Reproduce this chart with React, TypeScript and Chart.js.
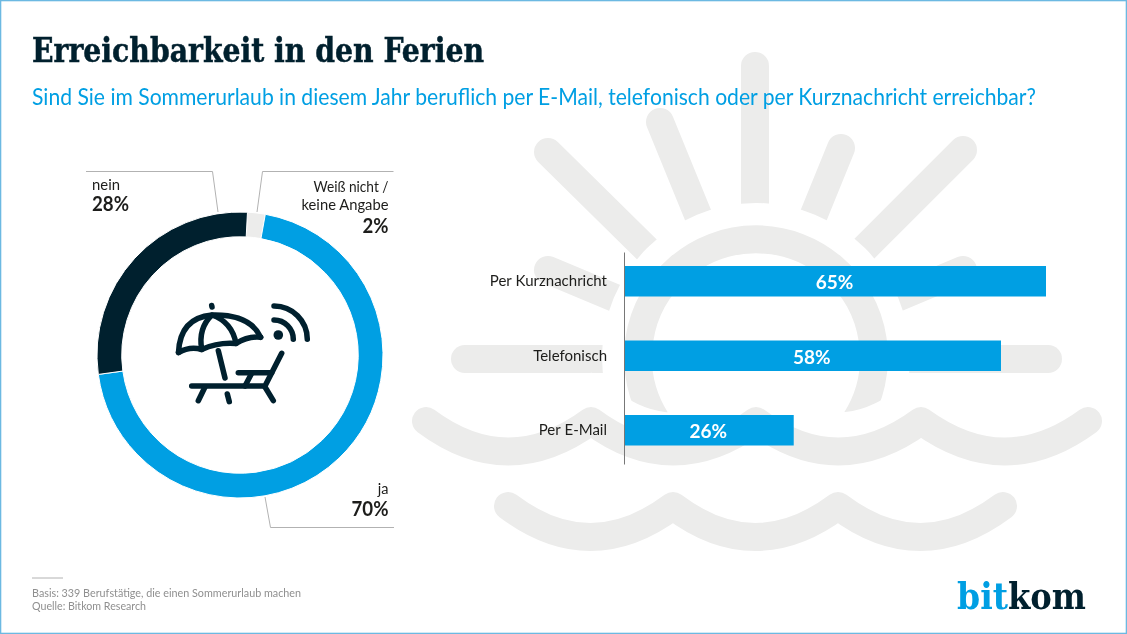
import { Chart, registerables } from "chart.js"
import React, { useEffect, useRef } from "react"

Chart.register(...registerables)

const DARK = "#00202e"
const BLUE = "#009fe3"
const PALE = "#ececeb"
const TEXT = "#1d1d1b"
const SLAB = "'DejaVu Serif Condensed', 'DejaVu Serif', serif"
const SANS = "Lato, 'Open Sans', sans-serif"

const ringLabels = ["Weiß nicht / keine Angabe", "ja", "nein"]
const ringValues = [2, 70, 28]
const ringColors = [PALE, BLUE, DARK]

const barLabels = ["Per Kurznachricht", "Telefonisch", "Per E-Mail"]
const barValues = [65, 58, 26]

const barExtras = {
  id: "barExtras",
  afterDatasetsDraw(chart: Chart) {
    const { ctx, chartArea, scales } = chart
    const axisX = Math.round(scales.x.getPixelForValue(0)) - 0.5
    ctx.save()
    ctx.strokeStyle = "#777"
    ctx.lineWidth = 1
    ctx.beginPath()
    ctx.moveTo(axisX, chartArea.top + 8.5)
    ctx.lineTo(axisX, chartArea.bottom - 3)
    ctx.stroke()
    ctx.fillStyle = "#fff"
    ctx.font = `700 19px ${SANS}`
    ctx.textAlign = "center"
    ctx.textBaseline = "middle"
    chart.getDatasetMeta(0).data.forEach((bar: any, i: number) => {
      ctx.fillText(`${barValues[i]}%`, (bar.x + bar.base) / 2 - 1, bar.y + 2)
    })
    ctx.restore()
  },
}

const Backdrop = () => (
  <svg width={1127} height={634} style={{ position: "absolute", left: 0, top: 0 }}>
    <g stroke={PALE} strokeWidth={28} strokeLinecap="round" fill="none">
      <path d="M755 66L755 357" />
      <path d="M660 122L756 357" />
      <path d="M548 152L756 357" />
      <path d="M548 270L756 357" />
      <path d="M465 359L756 359" />
      <path d="M841 148L756 357" />
      <path d="M963 150L756 357" />
      <path d="M963 270L756 357" />
      <path d="M1048 359L756 359" />
    </g>
    <circle cx={756} cy={357} r={154} fill="#fff" />
    <path d="M656 420A118 118 0 1 1 856 420" stroke={PALE} strokeWidth={28} fill="none" />
    <path
      d="M426 421Q508 482 591 421Q673 482 756 421Q838 482 921 421Q1005 482 1088 421"
      stroke="#fff"
      strokeWidth={78}
      fill="none"
    />
    <g stroke={PALE} strokeWidth={28} strokeLinecap="round" strokeLinejoin="round" fill="none">
      <path d="M426 421Q508 482 591 421Q673 482 756 421Q838 482 921 421Q1005 482 1088 421" />
      <path d="M508 506Q590 568 673 506Q755 568 838 506Q920 568 1003 506" />
    </g>
  </svg>
)

const Overlay = () => (
  <svg width={1127} height={634} style={{ position: "absolute", left: 0, top: 0 }}>
    <rect x={0} y={0} width={1127} height={634} fill="none" stroke="#6cb9e2" strokeWidth={2.6} />

    <text x={32} y={62} textLength={452} lengthAdjust="spacingAndGlyphs" fontFamily={SLAB} fontWeight={700} fontSize={33} fill={DARK} stroke={DARK} strokeWidth={0.5}>
      Erreichbarkeit in den Ferien
    </text>
    <text x={32} y={104.5} textLength={1004} lengthAdjust="spacingAndGlyphs" fontFamily={SANS} fontSize={23} fill={BLUE}>
      Sind Sie im Sommerurlaub in diesem Jahr beruflich per E-Mail, telefonisch oder per Kurznachricht erreichbar?
    </text>

    <g stroke="#b2b2b2" strokeWidth={1} fill="none">
      <path d="M86 171.5L212.5 171.5L218 212" />
      <path d="M393.5 171.5L262.5 171.5L257 212" />
      <path d="M265 497L270.5 527.5L394 527.5" />
      <path d="M32 578L63 578" />
    </g>

    <g fontFamily={SANS} fill={TEXT}>
      <text x={92} y={190} textLength={28} lengthAdjust="spacingAndGlyphs" fontSize={14.5}>nein</text>
      <text x={92} y={211} textLength={37} lengthAdjust="spacingAndGlyphs" fontSize={20} fontWeight={700}>28%</text>
      <text x={388.5} y={191.5} textAnchor="end" textLength={75} lengthAdjust="spacingAndGlyphs" fontSize={14.5}>Weiß nicht /</text>
      <text x={388.5} y={210} textAnchor="end" textLength={87} lengthAdjust="spacingAndGlyphs" fontSize={14.5}>keine Angabe</text>
      <text x={388.5} y={233} textAnchor="end" textLength={26} lengthAdjust="spacingAndGlyphs" fontSize={20} fontWeight={700}>2%</text>
      <text x={388.5} y={494} textAnchor="end" fontSize={14.5}>ja</text>
      <text x={388.5} y={516} textAnchor="end" textLength={37} lengthAdjust="spacingAndGlyphs" fontSize={20} fontWeight={700}>70%</text>
    </g>

    <g fontFamily={SANS} fill="#8f8f8f" fontSize={11}>
      <text x={32} y={597} textLength={269} lengthAdjust="spacingAndGlyphs">Basis: 339 Berufstätige, die einen Sommerurlaub machen</text>
      <text x={32} y={609.5} textLength={114} lengthAdjust="spacingAndGlyphs">Quelle: Bitkom Research</text>
    </g>

    <g fontFamily={SLAB} fontWeight={700} fontSize={37}>
      <text x={957} y={609} textLength={51} lengthAdjust="spacingAndGlyphs" fill={BLUE}>bit</text>
      <text x={1008} y={609} textLength={78} lengthAdjust="spacingAndGlyphs" fill={DARK}>kom</text>
    </g>

    <g stroke={DARK} strokeWidth={5.5} strokeLinecap="round" strokeLinejoin="round" fill="none">
      <path d="M211.7 305.5L212 307" />
      <path d="M178.5 352.5Q180 318 212 315Q250 314 260.7 337.3" />
      <path d="M178.5 352.5Q190 346 201.7 349.5Q218 342 236 343.5Q248 336 260.7 337.3" />
      <path d="M201.7 349.5Q198 328 212 315Q232 322 236 343.5" />
      <path d="M218.3 350.7L225 378" />
      <path d="M227.3 394L229.3 401.7" />
      <path d="M191.7 386L265 386L281.7 353.3" />
      <path d="M238.3 372.7L271.7 372.7" />
      <path d="M251.7 373.3L245 386" />
      <path d="M205 387L198.3 400.7" />
      <path d="M265 387L273.3 400.7" />
      <path d="M274 320A19.3 19.3 0 0 1 293.3 339.3" />
      <path d="M274 306A33.3 33.3 0 0 1 307.3 339.3" />
    </g>
    <circle cx={278.3} cy={335} r={4.8} fill={DARK} />
  </svg>
)

export default function App() {
  const ringRef = useRef<HTMLCanvasElement>(null)
  const barRef = useRef<HTMLCanvasElement>(null)

  useEffect(() => {
    document.body.style.margin = "0"
    const ring = new Chart(ringRef.current!, {
      type: "doughnut",
      data: {
        labels: ringLabels,
        datasets: [{ data: ringValues, backgroundColor: ringColors, borderColor: "#fff", borderWidth: 1 }],
      },
      options: {
        responsive: false,
        animation: false,
        devicePixelRatio: 1,
        rotation: 3,
        radius: 143,
        cutout: 119.5,
        plugins: { legend: { display: false }, tooltip: { enabled: false } },
      },
    })
    const bars = new Chart(barRef.current!, {
      type: "bar",
      data: {
        labels: barLabels,
        datasets: [{ data: barValues, backgroundColor: BLUE, barThickness: 30 }],
      },
      options: {
        indexAxis: "y",
        responsive: false,
        animation: false,
        devicePixelRatio: 1,
        layout: { padding: { top: 14, bottom: 12.5, left: 0, right: 34 } },
        scales: {
          x: { display: false, min: 0, max: 65 },
          y: {
            grid: { display: false, drawTicks: false },
            border: { display: false },
            afterFit: (axis: any) => {
              axis.width = 145
              // the tick padding would otherwise push the plot area in
              axis.paddingTop = 0
              axis.paddingBottom = 0
            },
            ticks: { padding: 18, color: TEXT, font: { family: SANS, size: 15 } },
          },
        },
        plugins: { legend: { display: false }, tooltip: { enabled: false } },
      },
      plugins: [barExtras],
    })
    return () => {
      ring.destroy()
      bars.destroy()
    }
  }, [])

  return (
    <div style={{ position: "relative", width: 1127, height: 634, background: "#fff", overflow: "hidden" }}>
      <Backdrop />
      <canvas ref={ringRef} width={290} height={290} style={{ position: "absolute", left: 95, top: 210 }} />
      <canvas ref={barRef} width={600} height={250} style={{ position: "absolute", left: 480, top: 230 }} />
      <Overlay />
    </div>
  )
}
